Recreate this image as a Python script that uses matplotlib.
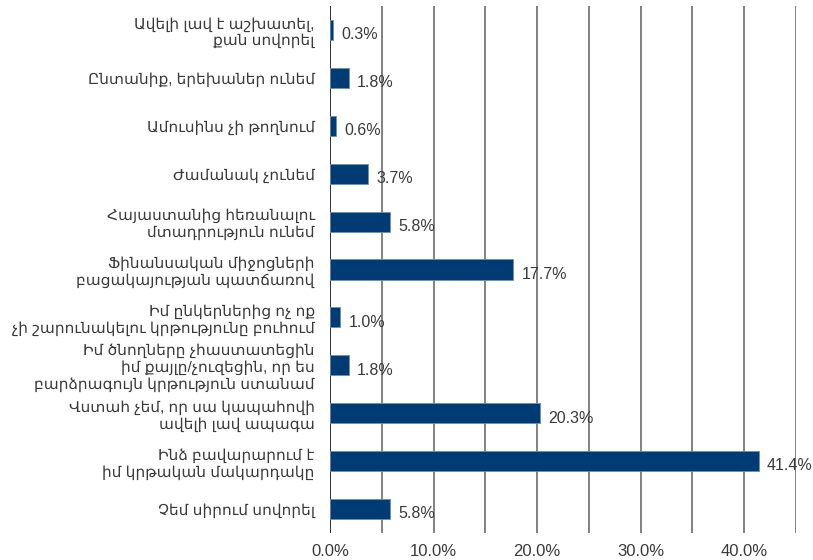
import matplotlib.pyplot as plt
from matplotlib.ticker import FuncFormatter

plt.rcParams['font.family'] = ['Liberation Sans', 'DejaVu Sans']

categories = [
    "Ավելի լավ է աշխատել,\nքան սովորել",
    "Ընտանիք, երեխաներ ունեմ",
    "Ամուսինս չի թողնում",
    "Ժամանակ չունեմ",
    "Հայաստանից հեռանալու\nմտադրություն ունեմ",
    "Ֆինանսական միջոցների\nբացակայության պատճառով",
    "Իմ ընկերներից ոչ ոք\nչի շարունակելու կրթությունը բուհում",
    "Իմ ծնողները չհաստատեցին\nիմ քայլը/չուզեցին, որ ես\nբարձրագույն կրթություն ստանամ",
    "Վստահ չեմ, որ սա կապահովի\nավելի լավ ապագա",
    "Ինձ բավարարում է\nիմ կրթական մակարդակը",
    "Չեմ սիրում սովորել",
]
values = [0.3, 1.8, 0.6, 3.7, 5.8, 17.7, 1.0, 1.8, 20.3, 41.4, 5.8]
grid_ticks = [0, 5, 10, 15, 20, 25, 30, 35, 40, 45]
label_ticks = [0, 10, 20, 30, 40]

bar_color = '#003b73'
text_color = '#3a3a3a'

fig = plt.figure(figsize=(8.13, 5.6), dpi=100)
ax = fig.add_axes([330 / 813, 1 - 533 / 560, (796 - 330) / 813, (533 - 6) / 560])

pos = list(range(len(values)))
for g in grid_ticks:
    ax.axvline(g, color='#222222' if g == 0 else '#777777', lw=1.3, zorder=1)

ax.barh(pos, values, height=0.42, color=bar_color, edgecolor='#6f8fb3',
        linewidth=0.6, zorder=2)

for p, v in zip(pos, values):
    ax.annotate(f"{v:.1f}%", (v, p), xytext=(6, -3.5), textcoords='offset points',
                ha='left', va='center', fontsize=11.5, color=text_color, zorder=3)

ax.set_xlim(0, 45)
ax.set_ylim(len(values) - 0.5, -0.5)
ax.set_xticks(label_ticks)
ax.xaxis.set_major_formatter(FuncFormatter(lambda x, _: f"{x:.1f}%"))
ax.set_yticks(pos)
ax.set_yticklabels(categories, fontsize=11.1, color=text_color, linespacing=1.2,
                   ha='right')
ax.tick_params(axis='both', length=0)
ax.tick_params(axis='x', pad=8, colors=text_color, labelsize=12)
ax.tick_params(axis='y', pad=11)
for s in ax.spines.values():
    s.set_visible(False)

fig.savefig('out.png', dpi=100)
